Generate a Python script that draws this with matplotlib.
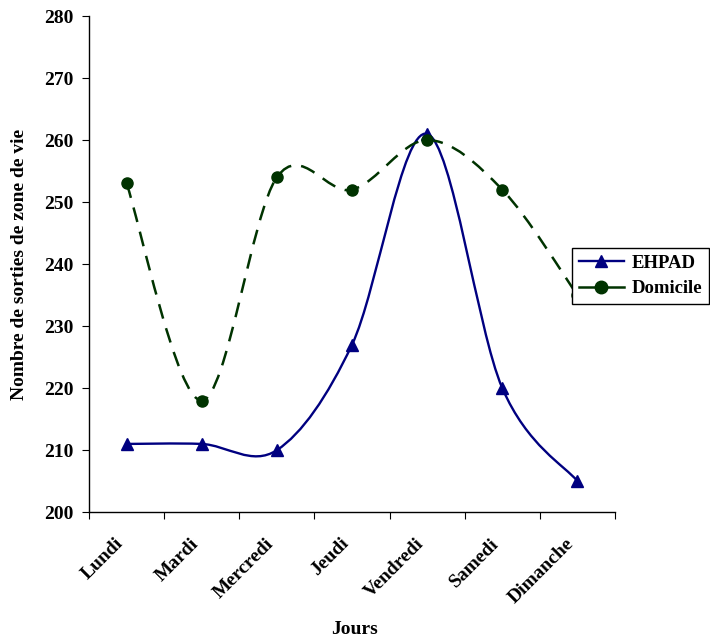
import numpy as np
import matplotlib
matplotlib.use('Agg')
import matplotlib.pyplot as plt
from matplotlib.path import Path
from matplotlib.patches import PathPatch
from matplotlib.lines import Line2D
from matplotlib.transforms import ScaledTranslation

# Data
jours = ['Lundi', 'Mardi', 'Mercredi', 'Jeudi', 'Vendredi', 'Samedi', 'Dimanche']
ehpad = [211, 211, 210, 227, 261, 220, 205]
domicile = [253, 218, 254, 252, 260, 252, 235]

plt.rcParams['font.family'] = ['Liberation Serif', 'DejaVu Serif']
plt.rcParams['font.weight'] = 'bold'

BLUE = '#000080'
GREEN = '#003300'
FS = 14
DASH = (0, (6, 4))


def smooth_path(x, y):
    """Excel-like smoothed line (Catmull-Rom as cubic Bezier segments)."""
    pts = np.column_stack([x, y]).astype(float)
    n = len(pts)
    verts = [pts[0]]
    codes = [Path.MOVETO]
    for i in range(n - 1):
        p0 = pts[i - 1] if i > 0 else pts[i]
        p1 = pts[i]
        p2 = pts[i + 1]
        p3 = pts[i + 2] if i + 2 < n else pts[i + 1]
        c1 = p1 + (p2 - p0) / 6.0
        c2 = p2 - (p3 - p1) / 6.0
        verts += [c1, c2, p2]
        codes += [Path.CURVE4] * 3
    return Path(verts, codes)


fig = plt.figure(figsize=(7.10, 6.41), dpi=100)
ax = fig.add_axes([0.1254, 0.201, 0.7408, 0.774])

xpos = np.arange(len(jours)) + 0.5

ax.add_patch(PathPatch(smooth_path(xpos, ehpad), facecolor='none',
                       edgecolor=BLUE, lw=1.7, zorder=2))
ax.add_patch(PathPatch(smooth_path(xpos, domicile), facecolor='none',
                       edgecolor=GREEN, lw=1.8, linestyle=DASH, zorder=2))
ax.plot(xpos, ehpad, linestyle='none', marker='^', color=BLUE, markersize=8, zorder=3)
ax.plot(xpos, domicile, linestyle='none', marker='o', color=GREEN, markersize=8, zorder=3)

ax.set_xlim(0, len(jours))
ax.set_ylim(200, 280)
ax.set_yticks(np.arange(200, 281, 10))
ax.set_xticks(np.arange(len(jours) + 1))
ax.set_xticklabels([])
ax.set_xticks(xpos, minor=True)
ax.set_xticklabels(jours, minor=True, rotation=45, ha='right',
                   rotation_mode='anchor', fontsize=FS, fontweight='bold')
ax.tick_params(axis='x', which='minor', length=0, pad=12)
ax.tick_params(axis='x', which='major', direction='out', length=5)
ax.tick_params(axis='y', direction='out', length=5, labelsize=FS, pad=6)
for lab in ax.get_yticklabels():
    lab.set_fontweight('bold')
# shift rotated day labels down-left like the original
shift = ScaledTranslation(-0.12, -0.06, fig.dpi_scale_trans)
for lab in ax.get_xticklabels(minor=True):
    lab.set_transform(lab.get_transform() + shift)

for s in ['top', 'right']:
    ax.spines[s].set_visible(False)
for s in ['left', 'bottom']:
    ax.spines[s].set_linewidth(1.0)

ax.set_ylabel('Nombre de sorties de zone de vie', fontsize=FS, fontweight='bold', labelpad=12)
fig.text(0.5, 1 - 629 / 641, 'Jours', ha='center', va='center', fontsize=FS, fontweight='bold')

handles = [
    Line2D([], [], color=BLUE, lw=1.7, marker='^', markersize=9),
    Line2D([], [], color=GREEN, lw=1.8, marker='o', markersize=9),
]
leg = fig.legend(handles, ['EHPAD', 'Domicile'], loc='upper left',
                 bbox_to_anchor=(0.806, 1 - 248 / 641),
                 frameon=True, fancybox=False, framealpha=1, edgecolor='black',
                 prop={'weight': 'bold', 'size': 13.5}, handlelength=2.4,
                 handletextpad=0.4, borderpad=0.35, borderaxespad=0,
                 labelspacing=0.45)
leg.get_frame().set_linewidth(1.0)

fig.savefig('out.png', dpi=100)
